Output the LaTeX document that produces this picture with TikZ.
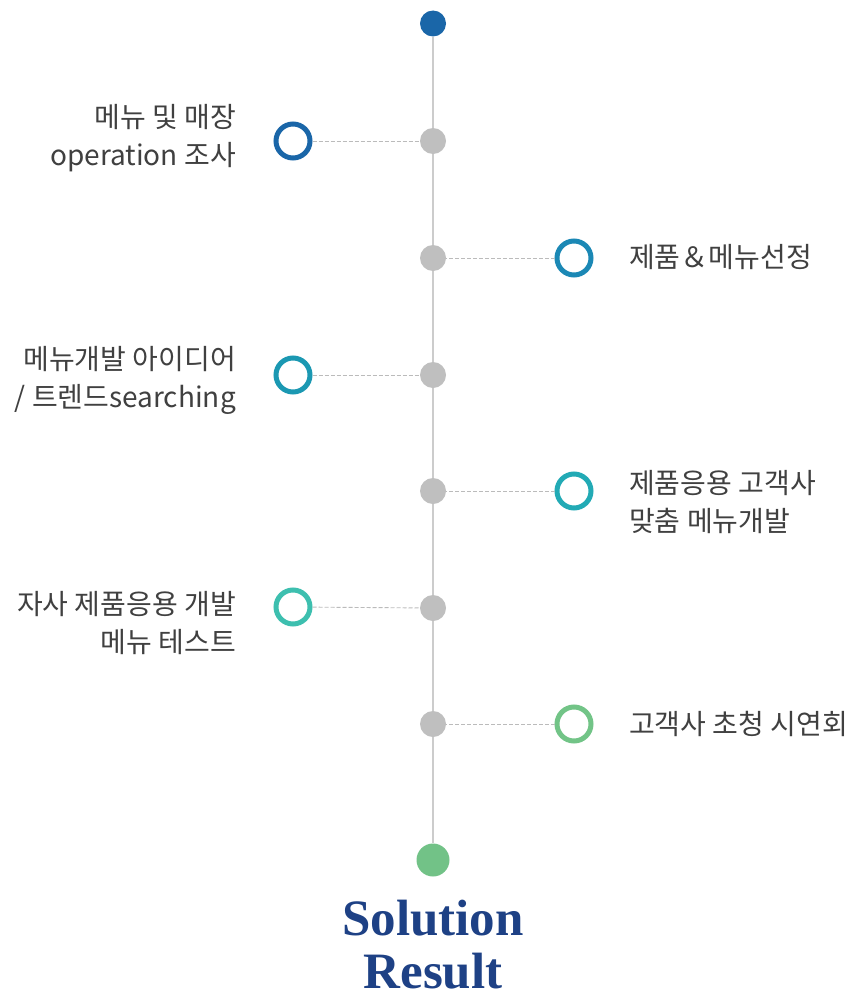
\documentclass[tikz,border=0pt]{standalone}
\usepackage{fontspec}
\setmainfont{Liberation Serif}
\newfontfamily\kr{Noto Sans CJK KR}
\usetikzlibrary{backgrounds}
\definecolor{spinegray}{HTML}{CCCCCC}
\definecolor{dotgray}{HTML}{BFBFBF}
\definecolor{dashgray}{HTML}{BBBBBB}
\definecolor{txtgray}{HTML}{404040}
\definecolor{cA}{HTML}{1A66A8}
\definecolor{cB}{HTML}{1B88B5}
\definecolor{cC}{HTML}{1B98B2}
\definecolor{cD}{HTML}{22AAB5}
\definecolor{cE}{HTML}{3DBFAF}
\definecolor{cF}{HTML}{72C487}
\definecolor{cG}{HTML}{72C287}
\definecolor{titleblue}{HTML}{1E4185}
\tikzset{
  graydot/.style={circle,fill=dotgray,minimum size=26pt,inner sep=0pt},
  ring/.style={circle,draw=#1,line width=5pt,fill=white,minimum size=34pt,inner sep=0pt},
  spine/.style={draw=spinegray,line width=2pt},
  dashconn/.style={draw=dashgray,line width=0.9pt,dash pattern=on 4pt off 2pt},
  lbl/.style={font=\kr\fontsize{28}{38}\selectfont,text=txtgray,inner sep=0pt},
  lleft/.style={lbl,anchor=east,align=right},
  lright/.style={lbl,anchor=west,align=left},
  title/.style={font=\fontsize{51}{51}\selectfont\bfseries,text=titleblue,inner sep=0pt,anchor=base}
}
\begin{document}
\begin{tikzpicture}[x=1pt,y=-1pt]
\useasboundingbox (0,0) rectangle (854,990);
\node[circle,fill=cA,minimum size=26pt,inner sep=0pt] (top) at (433,23.5) {};
\node[circle,fill=cG,minimum size=33pt,inner sep=0pt] (bot) at (433,860) {};
\begin{scope}[on background layer]
\draw[spine] (top) -- (bot);
\end{scope}
\node[graydot] (g1) at (433,141) {};
\node[graydot] (g2) at (433,258) {};
\node[graydot] (g3) at (433,375) {};
\node[graydot] (g4) at (433,491) {};
\node[graydot] (g5) at (433,608) {};
\node[graydot] (g6) at (433,724) {};
\node[ring=cA] (r1) at (293,141) {};
\node[ring=cB] (r2) at (574,258) {};
\node[ring=cC] (r3) at (293,375) {};
\node[ring=cD] (r4) at (574,491) {};
\node[ring=cE] (r5) at (293,607) {};
\node[ring=cF] (r6) at (574,724) {};
\draw[dashconn] (r1) -- (g1);
\draw[dashconn] (r2) -- (g2);
\draw[dashconn] (r3) -- (g3);
\draw[dashconn] (r4) -- (g4);
\draw[dashconn] (r5) -- (g5);
\draw[dashconn] (r6) -- (g6);
\node[lleft] (t1) at (236,138) {메뉴 및 매장\\operation 조사};
\node[lright] (t2) at (629,257) {제품＆메뉴선정};
\node[lleft] (t3) at (236,380) {메뉴개발 아이디어\\/ 트렌드searching};
\node[lright] (t4) at (629,502) {제품응용 고객사\\맞춤 메뉴개발};
\node[lleft] (t5) at (236,623) {자사 제품응용 개발\\메뉴 테스트};
\node[lright] (t6) at (629,724) {고객사 초청 시연회};
\node[title] (s1) at (433,935) {Solution};
\node[title] (s2) at (433,988) {Result};
\end{tikzpicture}
\end{document}
